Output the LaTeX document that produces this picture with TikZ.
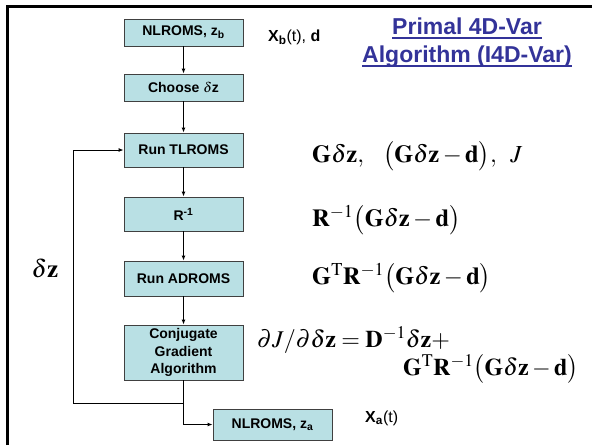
\documentclass[tikz,border=0pt]{standalone}
\usepackage{mathptmx}
\usepackage[no-math]{fontspec}
\setmainfont{Liberation Sans}
\usetikzlibrary{arrows.meta}
\definecolor{boxfill}{HTML}{B9E0E4}
\definecolor{titleblue}{HTML}{333399}
\newcommand\thickul[1]{\leavevmode\setbox0\hbox{#1}\rlap{\rule[-5pt]{\wd0}{2.3pt}}\box0}
\tikzset{
  stepbox/.style={draw=black!75, line width=0.8pt, fill=boxfill, minimum width=119pt, inner sep=1pt,
     font=\fontsize{14}{17.5}\selectfont\bfseries, align=center},
  flow/.style={line width=1pt, -{Latex[length=5pt,width=4pt]}},
  plain/.style={line width=1pt},
  eq/.style={anchor=base west, inner sep=0pt, font=\fontsize{24.5}{28}\selectfont},
  lbl/.style={anchor=west, inner sep=0pt, font=\fontsize{16}{19}\selectfont},
  ttl/.style={anchor=base, inner sep=0pt, text=titleblue, font=\fontsize{23}{27}\selectfont\bfseries}
}
\begin{document}
\begin{tikzpicture}[x=1pt,y=-1pt]
\useasboundingbox (0,0) rectangle (592,445);
\draw[line width=3pt] (7,445) -- (7,6) -- (593,6);

\node[stepbox, minimum height=27pt] (b1) at (183.5,32.5) {NLROMS, z\textsubscript{b}};
\node[stepbox, minimum height=27pt] (b2) at (183.5,87.5) {Choose $\delta$z};
\node[stepbox, minimum height=34pt] (b3) at (183.5,150) {Run TLROMS};
\node[stepbox, minimum height=34pt] (b4) at (183.5,214) {R\textsuperscript{-1}};
\node[stepbox, minimum height=35pt] (b5) at (183.5,278.5) {Run ADROMS};
\node[stepbox, minimum height=55pt] (b6) at (183.5,352.5) {Conjugate\\Gradient\\Algorithm};
\node[stepbox, minimum height=31pt] (b7) at (272.5,424.5) {NLROMS, z\textsubscript{a}};

\coordinate (j) at (183.5,403);
\coordinate (k) at (73,403);

\draw[flow] (b1) -- (b2);
\draw[flow] (b2) -- (b3);
\draw[flow] (b3) -- (b4);
\draw[flow] (b4) -- (b5);
\draw[flow] (b5) -- (b6);
\draw[plain] (b6.south) -- (j) -- (k);
\draw[flow] (k) |- (b3.west);
\draw[flow] (j) |- (b7.west);

\node[inner sep=0pt, font=\fontsize{25}{28}\selectfont] (dz) at (45,268) {$\delta\mathbf{z}$};

\node[lbl] (xb) at (268,37) {\textbf{X}\textsubscript{\textbf{b}}(t), \textbf{d}};
\node[lbl] (xa) at (365,418) {\textbf{X}\textsubscript{\textbf{a}}(t)};

\node[ttl] (t1) at (467,34) {\thickul{Primal 4D-Var}};
\node[ttl] (t2) at (467,62) {\thickul{Algorithm (I4D-Var)}};

\node[eq] (e1) at (312,162) {$\mathbf{G}\delta\mathbf{z},\;\;\; \bigl(\mathbf{G}\delta\mathbf{z}-\mathbf{d}\bigr),\;\; J$};
\node[eq] (e2) at (312,226) {$\mathbf{R}^{-1}\bigl(\mathbf{G}\delta\mathbf{z}-\mathbf{d}\bigr)$};
\node[eq] (e3) at (312,284) {$\mathbf{G}^{\mathrm{T}}\mathbf{R}^{-1}\bigl(\mathbf{G}\delta\mathbf{z}-\mathbf{d}\bigr)$};
\node[eq, font=\fontsize{24}{26}\selectfont] (e4) at (257,347) {\begin{tabular}[t]{@{}l@{}}$\partial J/\partial\delta\mathbf{z}=\mathbf{D}^{-1}\delta\mathbf{z}+$\\
\hspace*{146pt}$\mathbf{G}^{\mathrm{T}}\mathbf{R}^{-1}\bigl(\mathbf{G}\delta\mathbf{z}-\mathbf{d}\bigr)$\end{tabular}};
\end{tikzpicture}
\end{document}
